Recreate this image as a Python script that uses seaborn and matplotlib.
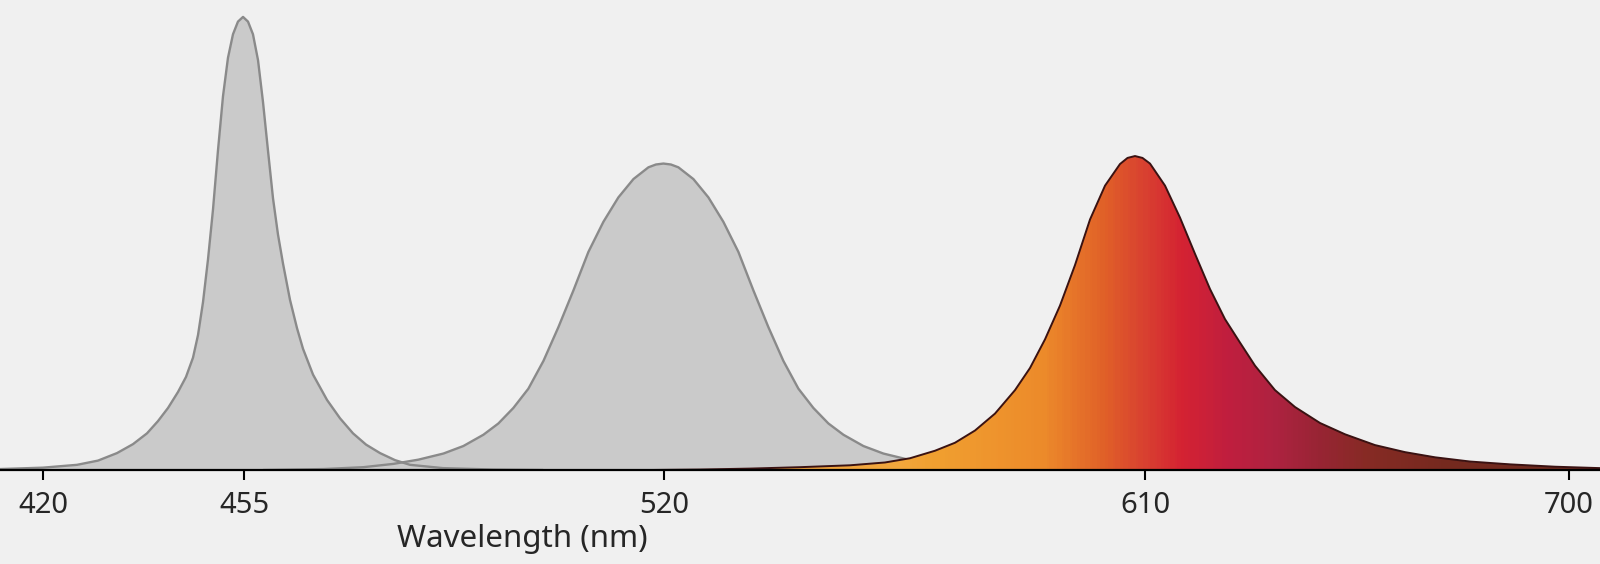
import numpy as np
import pandas as pd
import matplotlib.pyplot as plt
import seaborn as sns
from matplotlib.colors import LinearSegmentedColormap


# wavelength ticks (nm)
tick_nm = [420, 455, 520, 610, 700]
x_label = "Wavelength (nm)"

# blue emission peak (grey)
blue_nm = [412.50, 420.00, 425.92, 429.58, 432.89, 435.67, 438.11, 440.02, 441.77, 443.51,
           444.90, 446.12, 446.99, 447.86, 448.73, 449.60, 450.47, 451.34, 452.21, 453.08,
           453.95, 454.83, 455.62, 456.39, 457.17, 457.94, 458.71, 459.49, 460.26, 461.04,
           462.12, 463.20, 464.13, 465.68, 467.85, 469.86, 471.87, 473.89, 476.05, 478.37,
           480.69, 485.80, 493.54, 501.27]
blue_val = [0.002, 0.005, 0.011, 0.020, 0.036, 0.055, 0.078, 0.104, 0.132, 0.166,
            0.198, 0.239, 0.287, 0.357, 0.448, 0.554, 0.680, 0.795, 0.877, 0.927,
            0.954, 0.964, 0.954, 0.927, 0.872, 0.783, 0.680, 0.578, 0.501, 0.439,
            0.362, 0.302, 0.258, 0.203, 0.149, 0.110, 0.078, 0.054, 0.036, 0.021,
            0.011, 0.004, 0.001, 0.000]

# green emission peak (grey)
green_nm = [458.00, 467.29, 473.48, 478.12, 481.99, 485.86, 488.95, 492.05, 494.37, 496.69,
            499.01, 501.34, 503.66, 505.98, 508.30, 510.62, 512.94, 515.27, 517.59, 518.75,
            519.91, 521.29, 522.69, 525.50, 528.31, 531.11, 533.92, 536.73, 539.53, 542.34,
            545.15, 547.95, 550.76, 553.57, 557.31, 561.05, 565.73, 570.41, 576.02, 583.50,
            594.73]
green_val = [0.000, 0.002, 0.006, 0.013, 0.022, 0.035, 0.051, 0.075, 0.099, 0.132,
             0.173, 0.232, 0.304, 0.382, 0.464, 0.528, 0.580, 0.619, 0.644, 0.650,
             0.652, 0.650, 0.644, 0.619, 0.580, 0.528, 0.464, 0.382, 0.304, 0.232,
             0.173, 0.132, 0.099, 0.075, 0.051, 0.035, 0.022, 0.013, 0.006, 0.002,
             0.000]

# red emission peak (coloured)
red_nm = [517.83, 526.74, 536.09, 545.45, 554.80, 561.35, 566.03, 570.71, 574.45, 578.19,
          581.93, 585.68, 588.48, 591.29, 594.10, 596.90, 599.71, 602.52, 605.32, 606.73,
          608.13, 609.53, 611.06, 614.25, 617.43, 620.61, 623.80, 626.98, 630.17, 633.35,
          637.59, 641.84, 647.15, 652.45, 658.82, 665.19, 671.56, 678.99, 687.48, 697.03,
          706.58]
red_val = [0.000, 0.001, 0.003, 0.006, 0.010, 0.016, 0.025, 0.041, 0.058, 0.084,
           0.120, 0.170, 0.217, 0.278, 0.350, 0.436, 0.533, 0.605, 0.651, 0.664,
           0.668, 0.664, 0.652, 0.605, 0.537, 0.460, 0.385, 0.321, 0.271, 0.222,
           0.170, 0.134, 0.100, 0.076, 0.053, 0.038, 0.027, 0.018, 0.012, 0.007,
           0.004]

# the axis is not evenly spaced: anchor wavelengths -> axis position
scale_nm = [300, 412.5, 420, 455, 520, 610, 700, 706.6, 900]
scale_pos = [-645, 0, 43, 244, 664, 1145, 1569, 1600, 2508]

BG = "#f0f0f0"
GREY_FILL = "#cacaca"
GREY_LINE = "#8a8a8a"

sns.set_theme(style="white")
plt.rcParams["font.family"] = ["Noto Sans", "DejaVu Sans"]

fig = plt.figure(figsize=(16, 5.64), dpi=100, facecolor=BG)
ax = fig.add_axes([0, 94 / 564, 1, 470 / 564])
ax.set_facecolor(BG)

ax.set_xscale(
    "function",
    functions=(lambda x: np.interp(x, scale_nm, scale_pos),
               lambda p: np.interp(p, scale_pos, scale_nm)),
)

peaks = pd.concat([
    pd.DataFrame({"nm": blue_nm, "val": blue_val, "peak": "blue"}),
    pd.DataFrame({"nm": green_nm, "val": green_val, "peak": "green"}),
    pd.DataFrame({"nm": red_nm, "val": red_val, "peak": "red"}),
])

# grey peaks
for name in ["blue", "green"]:
    d = peaks[peaks["peak"] == name]
    ax.fill_between(d["nm"], 0, d["val"], color=GREY_FILL, lw=0, zorder=2)
    sns.lineplot(data=d, x="nm", y="val", ax=ax, color=GREY_LINE, lw=1.7,
                 sort=False, zorder=3)

# red peak with a horizontal colour gradient clipped to its shape
d = peaks[peaks["peak"] == "red"]
shape = ax.fill_between(d["nm"], 0, d["val"], color="none", lw=0, zorder=4)
grad = LinearSegmentedColormap.from_list("warm", [
    (0.000, "#f2a640"), (0.236, "#f2a63c"), (0.268, "#f0a030"), (0.380, "#ec8a2a"),
    (0.441, "#e06028"), (0.482, "#d84030"), (0.525, "#d42232"), (0.576, "#c01e3e"),
    (0.630, "#ae2240"), (0.680, "#982434"), (0.735, "#862a24"), (0.831, "#74291e"),
    (1.000, "#6a2a1e"),
])
gx = np.linspace(517, 706.6, 400)
gy = np.array([0, 1])
gc = ((gx[:-1] + gx[1:]) / 2)[None, :]
mesh = ax.pcolormesh(gx, gy, gc, cmap=grad, vmin=520, vmax=706.6,
                     shading="flat", zorder=4)
mesh.set_clip_path(shape.get_paths()[0], ax.transData)
sns.lineplot(data=d, x="nm", y="val", ax=ax, color="#3a1212", lw=1.4,
             sort=False, zorder=5)

ax.set_xlim(412.5, 706.6)
ax.set_ylim(0, 1)
ax.set_yticks([])
ax.set_ylabel("")
ax.set_xticks(tick_nm)
ax.set_xticklabels([str(t) for t in tick_nm])
ax.tick_params(axis="x", direction="out", length=7, width=1.5, color="black",
               labelsize=21, pad=8, bottom=True)
ax.set_xlabel(x_label, fontsize=22.5)
ax.xaxis.label.set_va("center")
ax.xaxis.set_label_coords(522 / 1600, -0.147)

sns.despine(ax=ax, left=True, top=True, right=True)
ax.spines["bottom"].set_color("black")
ax.spines["bottom"].set_linewidth(1.6)
ax.spines["bottom"].set_zorder(6)

fig.savefig("out.png", dpi=100, facecolor=BG)
